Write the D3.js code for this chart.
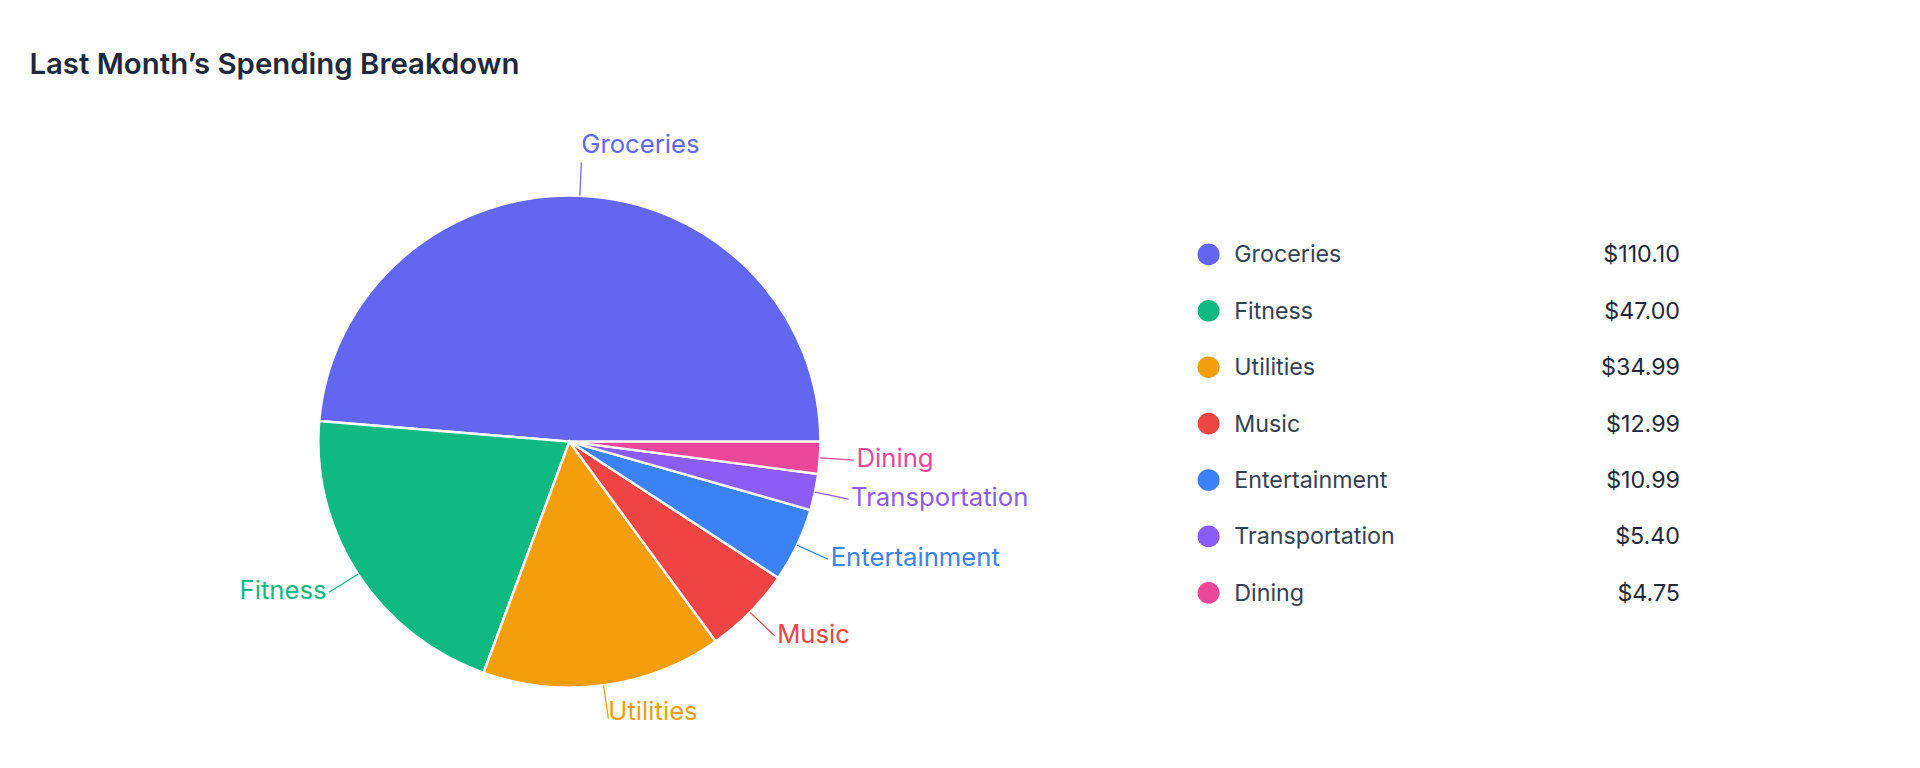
<!DOCTYPE html>
<html><head><meta charset="utf-8">
<script src="https://cdn.jsdelivr.net/npm/d3@7"></script>
<style>body{margin:0;background:#fff;font-family:Inter,"Noto Sans",sans-serif;}</style>
</head><body><div id="chart"></div>
<script>
var categories = ["Groceries","Fitness","Utilities","Music","Entertainment","Transportation","Dining"];
var amounts = [110.10, 47.00, 34.99, 12.99, 10.99, 5.40, 4.75];
var colors = ["#6366f1","#10b981","#f59e0b","#ef4444","#3b82f6","#8b5cf6","#ec4899"];

var data = categories.map(function(c, i){ return {name: c, value: amounts[i], color: colors[i]}; });

var svg = d3.select("#chart").append("svg")
  .attr("width", 1920).attr("height", 768)
  .attr("viewBox", "0 0 1568 640")
  .attr("preserveAspectRatio", "none");

svg.append("text")
  .attr("x", 24).attr("y", 62)
  .attr("font-size", 24).attr("font-weight", 600).attr("fill", "#1e293b")
  .text("Last Month\u2019s Spending Breakdown");

var cx = 465, cy = 368, radius = 205, lead = 28;

var pie = d3.pie().sort(null).value(function(d){ return d.value; })
  .startAngle(Math.PI / 2).endAngle(Math.PI / 2 - 2 * Math.PI);
var arc = d3.arc().innerRadius(0).outerRadius(radius);

var g = svg.append("g").attr("transform", "translate(" + cx + "," + cy + ")");
var arcs = pie(data);

g.selectAll("path.slice").data(arcs).enter().append("path")
  .attr("class", "slice")
  .attr("d", arc)
  .attr("fill", function(d){ return d.data.color; })
  .attr("stroke", "#fff").attr("stroke-width", 2);

function pt(a, r){ return [Math.sin(a) * r, -Math.cos(a) * r]; }

arcs.forEach(function(d){
  var a = (d.startAngle + d.endAngle) / 2;
  var p1 = pt(a, radius), p2 = pt(a, radius + lead);
  g.append("line")
    .attr("x1", p1[0]).attr("y1", p1[1]).attr("x2", p2[0]).attr("y2", p2[1])
    .attr("stroke", d.data.color).attr("stroke-width", 1);
  var top = Math.abs(Math.sin(a)) < 0.25 && Math.cos(a) > 0;
  var bottom = Math.abs(Math.sin(a)) < 0.25 && Math.cos(a) < 0;
  var t = g.append("text")
    .attr("font-size", 21).attr("fill", d.data.color)
    .text(d.data.name);
  if (top) {
    t.attr("x", p2[0]).attr("y", p2[1] - 8).attr("dominant-baseline", "auto");
  } else if (bottom) {
    t.attr("x", p2[0]).attr("y", p2[1] - 7).attr("dominant-baseline", "central");
  } else {
    t.attr("x", p2[0] + (p2[0] >= 0 ? 2 : -2)).attr("y", p2[1] - 2)
      .attr("text-anchor", p2[0] >= 0 ? "start" : "end")
      .attr("dominant-baseline", "central");
  }
});

var fmt = d3.format("$,.2f");
var legend = svg.append("g");
var yRow = d3.scalePoint().domain(categories).range([212, 494]);
var rows = legend.selectAll("g").data(data).enter().append("g")
  .attr("transform", function(d){ return "translate(0," + yRow(d.name) + ")"; });
rows.append("circle").attr("cx", 987).attr("cy", 0).attr("r", 9)
  .attr("fill", function(d){ return d.color; });
rows.append("text").attr("x", 1008).attr("y", 0).attr("dominant-baseline", "central")
  .attr("font-size", 19).attr("fill", "#334155")
  .text(function(d){ return d.name; });
rows.append("text").attr("x", 1372).attr("y", 0).attr("dominant-baseline", "central")
  .attr("text-anchor", "end").attr("font-size", 19).attr("fill", "#1e293b")
  .text(function(d){ return fmt(d.value); });
</script></body></html>
